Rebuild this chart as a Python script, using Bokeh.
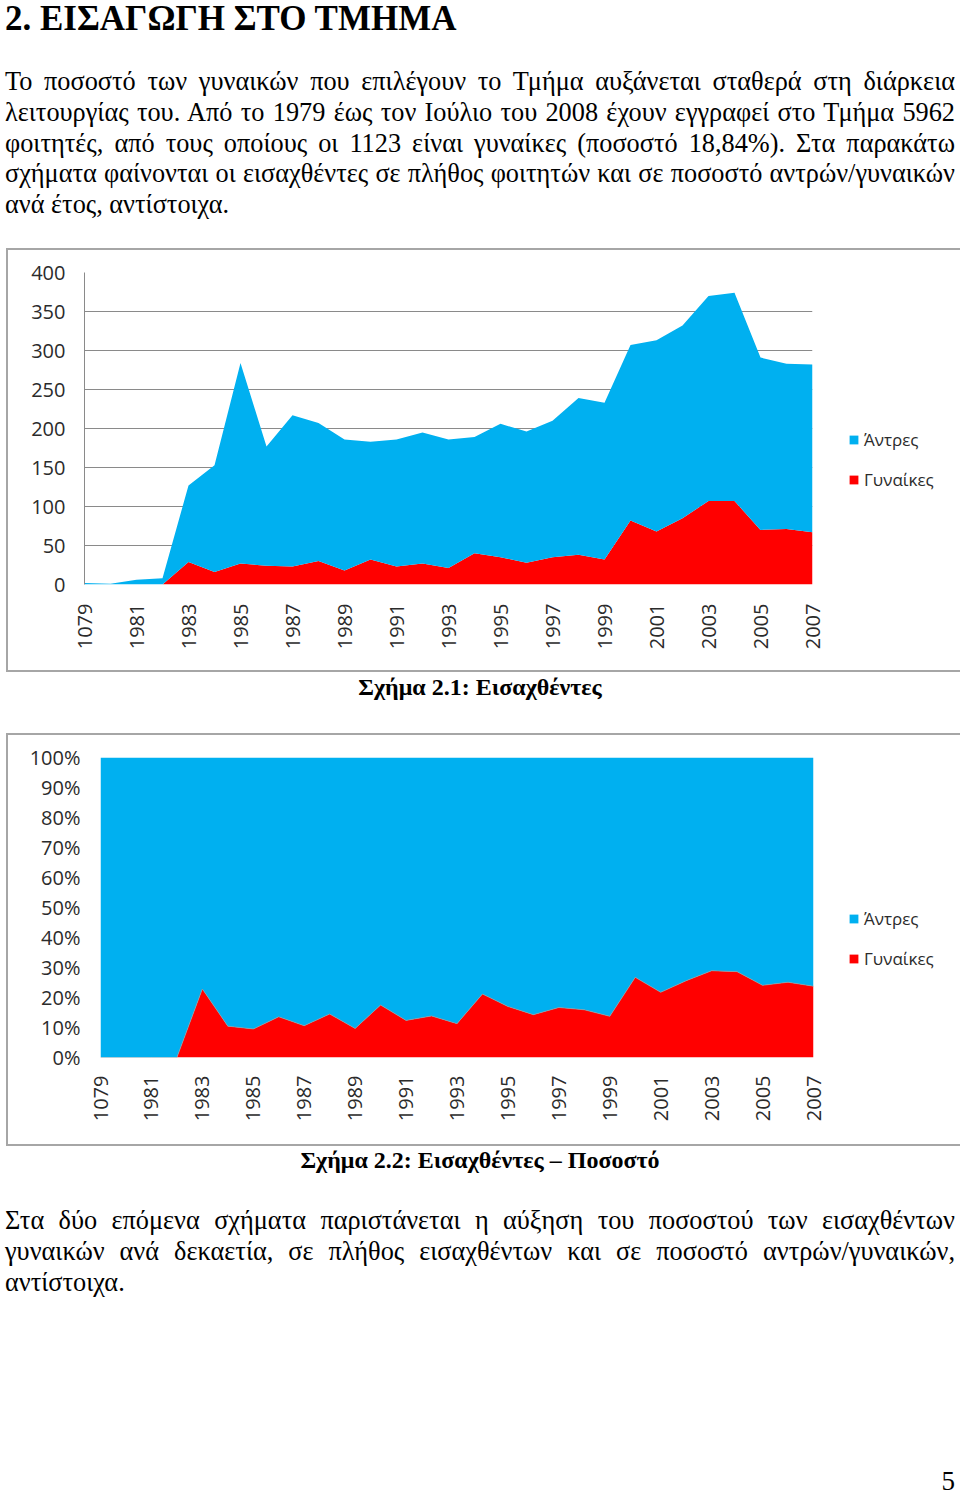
from bokeh.plotting import figure
from bokeh.models import (ColumnDataSource, Range1d, FixedTicker, Legend, LegendItem, Div)
from bokeh.layouts import column
from bokeh.embed import file_html
from bokeh.resources import INLINE

# ---------------- data ----------------
years = [1979, 1980, 1981, 1982, 1983, 1984, 1985, 1986, 1987, 1988, 1989, 1990,
         1991, 1992, 1993, 1994, 1995, 1996, 1997, 1998, 1999, 2000, 2001, 2002,
         2003, 2004, 2005, 2006, 2007]
year_labels = ["1079", "1980", "1981", "1982", "1983", "1984", "1985", "1986", "1987",
               "1988", "1989", "1990", "1991", "1992", "1993", "1994", "1995", "1996",
               "1997", "1998", "1999", "2000", "2001", "2002", "2003", "2004", "2005",
               "2006", "2007"]
men = [2, 1, 6, 8, 98, 137, 257, 153, 194, 177, 168, 151, 163, 168, 165, 149,
       171, 168, 175, 201, 201, 225, 245, 247, 263, 267, 221, 212, 215]
women = [0, 0, 0, 0, 29, 16, 27, 24, 23, 30, 18, 32, 23, 27, 21, 40,
         35, 28, 35, 38, 32, 82, 68, 85, 107, 107, 70, 71, 67]
series_names = ["Άντρες", "Γυναίκες"]
count_ticks = [0, 50, 100, 150, 200, 250, 300, 350, 400]
pct_ticks = [0, 10, 20, 30, 40, 50, 60, 70, 80, 90, 100]
pct_labels = ["0%", "10%", "20%", "30%", "40%", "50%", "60%", "70%", "80%", "90%", "100%"]

BLUE = "#00B0F0"
RED = "#FF0000"
TICK_FONT = "Open Sans"
TICK_COLOR = "#2b2b2b"
BOX_STYLE = {"border": "2px solid #a6a6a6"}

shown_years = years[::2]
label_map = {y: l for y, l in zip(years, year_labels)}

total = [m + w for m, w in zip(men, women)]
women_pct = [w / t * 100 for w, t in zip(women, total)]
full_pct = [100 for _ in years]

src = ColumnDataSource(dict(year=years, women=women, total=total,
                            women_pct=women_pct, full=full_pct))


def style_axes(p):
    p.xaxis.ticker = FixedTicker(ticks=shown_years)
    p.xaxis.major_label_overrides = {y: label_map[y] for y in shown_years}
    p.xaxis.major_label_orientation = 3.14159265 / 2
    p.xaxis.axis_line_color = None
    for ax in (p.xaxis, p.yaxis):
        ax.major_label_text_font = TICK_FONT
        ax.major_label_text_font_size = "20px"
        ax.major_label_text_color = TICK_COLOR
        ax.major_tick_line_color = None
        ax.minor_tick_line_color = None
        ax.major_tick_out = 0
        ax.major_tick_in = 0
        ax.minor_tick_out = 0
    p.xgrid.grid_line_color = None
    p.outline_line_color = None
    p.background_fill_color = "white"
    p.border_fill_alpha = 0


def add_legend(p, r_men, r_women, x, y):
    leg = Legend(items=[LegendItem(label=series_names[0], renderers=[r_men]),
                        LegendItem(label=series_names[1], renderers=[r_women])],
                 location=(x, y), orientation="vertical")
    leg.border_line_color = None
    leg.background_fill_alpha = 0
    leg.padding = 0
    leg.margin = 0
    leg.spacing = 17
    leg.glyph_width = 11
    leg.glyph_height = 11
    leg.label_height = 20
    leg.label_standoff = 5
    leg.label_text_font = TICK_FONT
    leg.label_text_font_size = "17px"
    leg.label_text_color = TICK_COLOR
    p.add_layout(leg, "right")


# ---------------- chart 1 : counts ----------------
p1 = figure(frame_width=728, frame_height=312, min_border_left=76, min_border_right=144,
            min_border_top=22, min_border_bottom=86, margin=0,
            x_range=Range1d(years[0], years[-1]), y_range=Range1d(0, 400),
            output_backend="svg", toolbar_location=None)
r1w = p1.varea(x="year", y1=0, y2="women", source=src, fill_color=RED)
r1m = p1.varea(x="year", y1="women", y2="total", source=src, fill_color=BLUE)
style_axes(p1)
p1.yaxis.ticker = FixedTicker(ticks=count_ticks)
p1.yaxis.axis_line_color = "#8a8a8a"
p1.yaxis.major_label_standoff = 19
p1.xaxis.major_label_standoff = 19
p1.ygrid.grid_line_color = "#8a8a8a"
p1.ygrid.ticker = FixedTicker(ticks=count_ticks)
add_legend(p1, r1m, r1w, 36, 93)

# ---------------- chart 2 : percentages ----------------
p2 = figure(frame_width=713, frame_height=300, min_border_left=92, min_border_right=143,
            min_border_top=22, min_border_bottom=87, margin=0,
            x_range=Range1d(years[0], years[-1]), y_range=Range1d(0, 100),
            output_backend="svg", toolbar_location=None)
r2w = p2.varea(x="year", y1=0, y2="women_pct", source=src, fill_color=RED)
r2m = p2.varea(x="year", y1="women_pct", y2="full", source=src, fill_color=BLUE)
p2.line(x="year", y="women_pct", source=src, line_color="#9a9a9a", line_width=1, line_alpha=0.7)
style_axes(p2)
p2.yaxis.ticker = FixedTicker(ticks=pct_ticks)
p2.yaxis.major_label_overrides = {t: l for t, l in zip(pct_ticks, pct_labels)}
p2.yaxis.axis_line_color = None
p2.yaxis.major_label_standoff = 20
p2.xaxis.major_label_standoff = 18
p2.ygrid.grid_line_color = None
add_legend(p2, r2m, r2w, 35, 87)

box1 = column(p1, margin=(0, 2, 0, 6), styles=BOX_STYLE)
box2 = column(p2, margin=(0, 2, 0, 6), styles=BOX_STYLE)

# ---------------- text blocks ----------------
SERIF = "'Liberation Serif', 'Times New Roman', serif"
JL = "text-align:justify; text-align-last:justify; white-space:nowrap;"
LL = "text-align:left; white-space:nowrap;"

p1_lines = [
    "Το ποσοστό των γυναικών που επιλέγουν το Τμήμα αυξάνεται σταθερά στη διάρκεια",
    "λειτουργίας του. Από το 1979 έως τον Ιούλιο του 2008 έχουν εγγραφεί στο Τμήμα 5962",
    "φοιτητές, από τους οποίους οι 1123 είναι γυναίκες (ποσοστό 18,84%). Στα παρακάτω",
    "σχήματα φαίνονται οι εισαχθέντες σε πλήθος φοιτητών και σε ποσοστό αντρών/γυναικών",
    "ανά έτος, αντίστοιχα.",
]
p2_lines = [
    "Στα δύο επόμενα σχήματα παριστάνεται η αύξηση του ποσοστού των εισαχθέντων",
    "γυναικών ανά δεκαετία, σε πλήθος εισαχθέντων και σε ποσοστό αντρών/γυναικών,",
    "αντίστοιχα.",
]


def para(lines):
    out = []
    for i, ln in enumerate(lines):
        st = LL if i == len(lines) - 1 else JL
        out.append(f'<div style="{st}">{ln}</div>')
    return "".join(out)


top_html = (
    f'<div style="margin-left:5px; width:950px; font-family:{SERIF}; color:#000;">'
    '<div style="font-weight:bold; font-size:35px; line-height:37px; white-space:nowrap;">2. ΕΙΣΑΓΩΓΗ ΣΤΟ ΤΜΗΜΑ</div>'
    f'<div style="margin-top:30px; font-size:26.3px; line-height:30.75px;">{para(p1_lines)}</div>'
    '</div>'
)
cap1_html = (
    f'<div style="width:960px; text-align:center; font-family:{SERIF}; '
    'font-weight:bold; font-size:24px; line-height:27px; color:#000; padding-top:2px;">Σχήμα 2.1: Εισαχθέντες</div>'
)
bottom_html = (
    f'<div style="position:relative; margin-left:5px; width:950px; height:351px; font-family:{SERIF}; color:#000;">'
    '<div style="text-align:center; font-weight:bold; font-size:24px; line-height:27px; padding-top:1px;">'
    'Σχήμα 2.2: Εισαχθέντες – Ποσοστό</div>'
    f'<div style="margin-top:32px; font-size:26.3px; line-height:30.75px;">{para(p2_lines)}</div>'
    '<div style="position:absolute; right:0px; top:320px; font-size:27px; line-height:30px;">5</div>'
    '</div>'
)

d_top = Div(text=top_html, width=960, height=248, margin=0)
d_cap1 = Div(text=cap1_html, width=960, height=61, margin=0)
d_bottom = Div(text=bottom_html, width=960, height=351, margin=0)

layout = column(d_top, box1, d_cap1, box2, d_bottom, spacing=0, margin=0)

open("out.html", "w").write(file_html(layout, INLINE))
